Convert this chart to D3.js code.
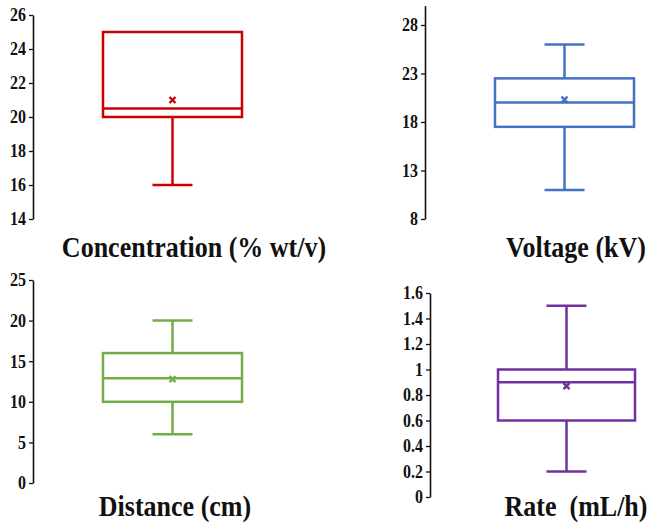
<!DOCTYPE html>
<html>
<head>
<meta charset="utf-8">
<script src="https://cdn.jsdelivr.net/npm/d3@7"></script>
<style>
  body { margin: 0; background: #fff; }
  svg { display: block; }
  .serif { font-family: "Liberation Serif", "Times New Roman", Times, serif; font-weight: bold; }
</style>
</head>
<body>
<svg id="chart" width="650" height="526"></svg>
<script>
// box stats
const labels = ["Concentration (% wt/v)", "Voltage (kV)", "Distance (cm)", "Rate  (mL/h)"];
const mins = [16, 11, 6, 0.2];
const q1s = [20, 17.5, 10, 0.6];
const medians = [20.5, 20, 12.9, 0.9];
const q3s = [25, 22.5, 16, 1.0];
const maxs = [25, 26, 20, 1.5];
const means = [21, 20.3, 12.8, 0.87];
const domains = [[14, 26], [8, 30], [0, 25], [0, 1.6]];
const tickVals = [
  [14, 16, 18, 20, 22, 24, 26],
  [8, 13, 18, 23, 28],
  [0, 5, 10, 15, 20, 25],
  [0, 0.2, 0.4, 0.6, 0.8, 1, 1.2, 1.4, 1.6]
];
const colors = ["#cc0000", "#4472c4", "#70ad47", "#7030a0"];

// panel layout
const panels = [
  { axisX: 33, y0: 219, y1: 15, bx0: 103, bx1: 242, labelX: 194, labelY: 257 },
  { axisX: 425, y0: 219, y1: 5.6, bx0: 495, bx1: 634, labelX: 576, labelY: 257 },
  { axisX: 33, y0: 483, y1: 280, bx0: 103, bx1: 242, labelX: 175, labelY: 516 },
  { axisX: 430, y0: 497, y1: 293, bx0: 498, bx1: 635, labelX: 576, labelY: 516 }
];

const svg = d3.select("#chart");

panels.forEach((p, i) => {
  const y = d3.scaleLinear().domain(domains[i]).range([p.y0, p.y1]);
  const x = d3.scaleLinear().domain([0, 1]).range([p.bx0, p.bx1]);
  const cx = x(0.5);
  const capHalf = 20;
  const col = colors[i];
  const g = svg.append("g");

  const axis = g
    .append("g")
    .attr("transform", `translate(${p.axisX},0)`)
    .call(
      d3.axisLeft(y)
        .tickValues(tickVals[i])
        .tickSize(4)
        .tickSizeOuter(0)
        .tickPadding(3)
        .tickFormat(d3.format("~g"))
    );
  axis.attr("font-family", null).attr("font-size", null);
  axis.select(".domain").attr("stroke", "#111").attr("stroke-width", 1.6);
  axis.selectAll(".tick line").attr("stroke", "#111").attr("stroke-width", 1.3);
  axis
    .selectAll(".tick text")
    .attr("class", "serif")
    .style("font-size", "16px")
    .attr("transform", "scale(1,1.15)")
    .attr("fill", "#111");

  const box = g
    .append("g")
    .attr("fill", "none")
    .attr("stroke", col)
    .attr("stroke-width", 2.5);

  // whiskers
  box.append("line")
    .attr("x1", cx).attr("x2", cx)
    .attr("y1", y(q1s[i])).attr("y2", y(mins[i]));
  box.append("line")
    .attr("x1", cx).attr("x2", cx)
    .attr("y1", y(q3s[i])).attr("y2", y(maxs[i]));
  box.append("line")
    .attr("x1", cx - capHalf).attr("x2", cx + capHalf)
    .attr("y1", y(mins[i])).attr("y2", y(mins[i]));
  if (maxs[i] > q3s[i]) {
    box.append("line")
      .attr("x1", cx - capHalf).attr("x2", cx + capHalf)
      .attr("y1", y(maxs[i])).attr("y2", y(maxs[i]));
  }

  box.append("rect")
    .attr("x", x(0)).attr("width", x(1) - x(0))
    .attr("y", y(q3s[i])).attr("height", y(q1s[i]) - y(q3s[i]));
  box.append("line")
    .attr("x1", x(0)).attr("x2", x(1))
    .attr("y1", y(medians[i])).attr("y2", y(medians[i]));

  // mean marker
  const my = y(means[i]);
  const s = 3;
  box.append("path")
    .attr("d", `M${cx - s},${my - s}L${cx + s},${my + s}M${cx - s},${my + s}L${cx + s},${my - s}`)
    .attr("stroke-width", 2.4);

  g.append("text")
    .attr("class", "serif")
    .attr("transform", `translate(${p.labelX},${p.labelY}) scale(1,1.1)`)
    .attr("text-anchor", "middle")
    .style("font-size", "26px")
    .style("white-space", "pre")
    .attr("fill", "#111")
    .text(labels[i]);
});
</script>
</body>
</html>
